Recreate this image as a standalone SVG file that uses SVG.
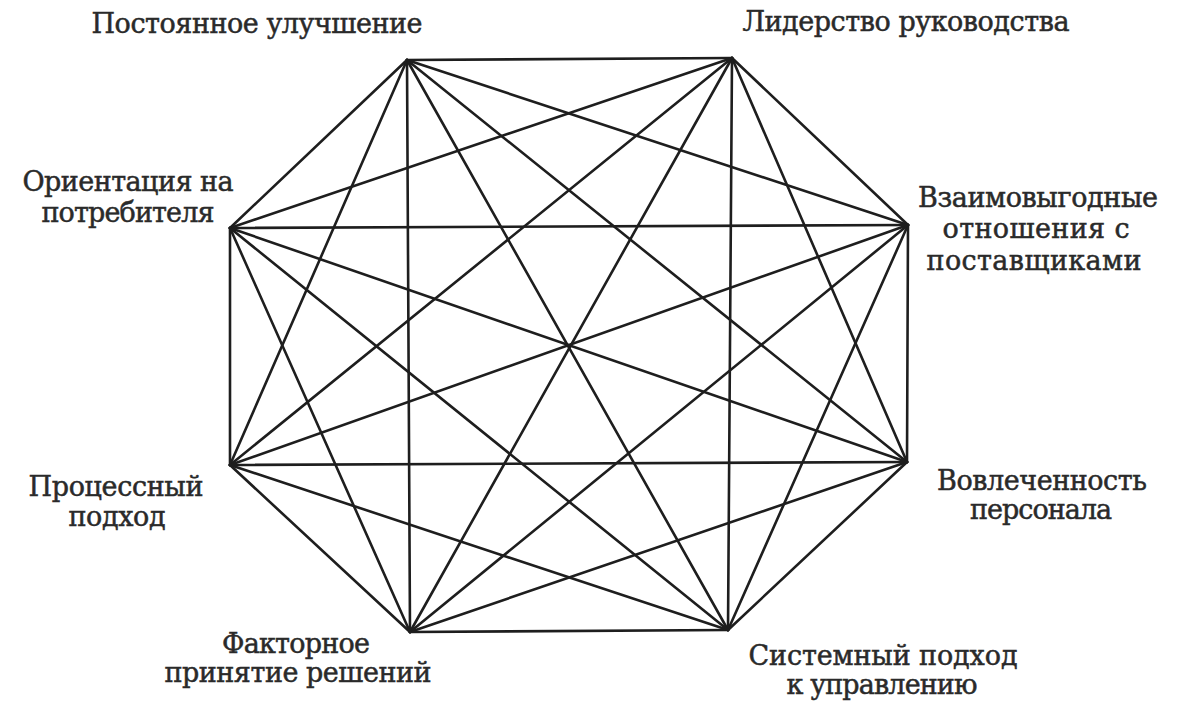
<svg xmlns="http://www.w3.org/2000/svg" width="1184" height="705" viewBox="0 0 1184 705">
<style>
.lbl{font-family:"DejaVu Serif","Liberation Serif",serif;font-size:27px;fill:#2a2a2a;stroke:#2a2a2a;stroke-width:0.5;text-anchor:middle}
.edge{stroke:#1e1e1e;stroke-width:2.6;fill:none;stroke-linecap:round}
</style>
<rect width="1184" height="705" fill="#ffffff"/>
<g id="connectors">
<line class="edge" x1="407" y1="60" x2="732" y2="58"/>
<line class="edge" x1="407" y1="60" x2="908" y2="225"/>
<line class="edge" x1="407" y1="60" x2="907" y2="462"/>
<line class="edge" x1="407" y1="60" x2="728" y2="630"/>
<line class="edge" x1="407" y1="60" x2="410" y2="632"/>
<line class="edge" x1="407" y1="60" x2="230" y2="465"/>
<line class="edge" x1="407" y1="60" x2="230" y2="228"/>
<line class="edge" x1="732" y1="58" x2="908" y2="225"/>
<line class="edge" x1="732" y1="58" x2="907" y2="462"/>
<line class="edge" x1="732" y1="58" x2="728" y2="630"/>
<line class="edge" x1="732" y1="58" x2="410" y2="632"/>
<line class="edge" x1="732" y1="58" x2="230" y2="465"/>
<line class="edge" x1="732" y1="58" x2="230" y2="228"/>
<line class="edge" x1="908" y1="225" x2="907" y2="462"/>
<line class="edge" x1="908" y1="225" x2="728" y2="630"/>
<line class="edge" x1="908" y1="225" x2="410" y2="632"/>
<line class="edge" x1="908" y1="225" x2="230" y2="465"/>
<line class="edge" x1="908" y1="225" x2="230" y2="228"/>
<line class="edge" x1="907" y1="462" x2="728" y2="630"/>
<line class="edge" x1="907" y1="462" x2="410" y2="632"/>
<line class="edge" x1="907" y1="462" x2="230" y2="465"/>
<line class="edge" x1="907" y1="462" x2="230" y2="228"/>
<line class="edge" x1="728" y1="630" x2="410" y2="632"/>
<line class="edge" x1="728" y1="630" x2="230" y2="465"/>
<line class="edge" x1="728" y1="630" x2="230" y2="228"/>
<line class="edge" x1="410" y1="632" x2="230" y2="465"/>
<line class="edge" x1="410" y1="632" x2="230" y2="228"/>
<line class="edge" x1="230" y1="465" x2="230" y2="228"/>
</g>
<g id="node-improvement"><text class="lbl" x="257" y="33" textLength="331">Постоянное улучшение</text></g>
<g id="node-leadership"><text class="lbl" x="906" y="31" textLength="327">Лидерство руководства</text></g>
<g id="node-customer"><text class="lbl" x="128" y="191" textLength="211">Ориентация на</text><text class="lbl" x="128" y="222" textLength="173">потребителя</text></g>
<g id="node-suppliers"><text class="lbl" x="1038" y="207" textLength="240">Взаимовыгодные</text><text class="lbl" x="1036" y="238" textLength="187">отношения с</text><text class="lbl" x="1034" y="270" textLength="215">поставщиками</text></g>
<g id="node-process"><text class="lbl" x="116" y="496" textLength="175">Процессный</text><text class="lbl" x="117" y="526" textLength="97">подход</text></g>
<g id="node-staff"><text class="lbl" x="1042" y="490" textLength="210">Вовлеченность</text><text class="lbl" x="1041" y="519" textLength="142">персонала</text></g>
<g id="node-decisions"><text class="lbl" x="296" y="653" textLength="148">Факторное</text><text class="lbl" x="298" y="682" textLength="267">принятие решений</text></g>
<g id="node-system"><text class="lbl" x="883" y="665" textLength="269">Системный подход</text><text class="lbl" x="882" y="694" textLength="191">к управлению</text></g>
</svg>
